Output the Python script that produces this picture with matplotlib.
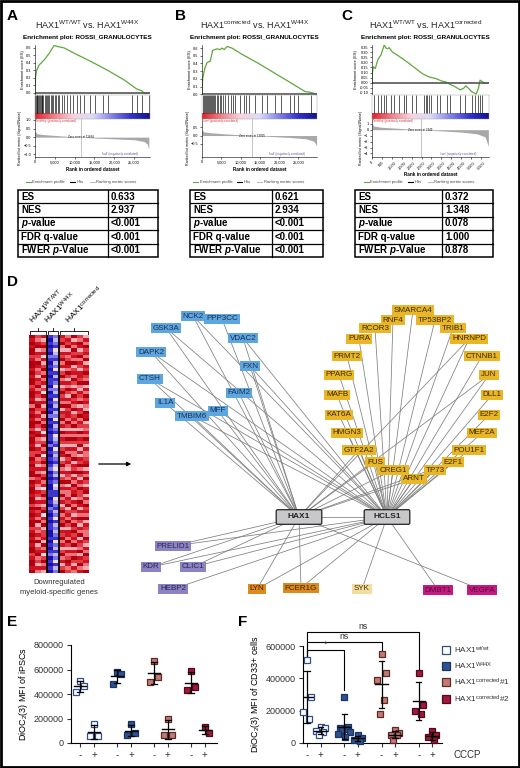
import numpy as np
import matplotlib.pyplot as plt
from matplotlib.colors import LinearSegmentedColormap
from matplotlib.patches import Rectangle, FancyBboxPatch

plt.rcParams['font.family'] = ['Liberation Sans', 'DejaVu Sans']
plt.rcParams['mathtext.fontset'] = 'custom'
plt.rcParams['mathtext.rm'] = 'Liberation Sans'
plt.rcParams['mathtext.it'] = 'Liberation Sans:italic'
plt.rcParams['mathtext.bf'] = 'Liberation Sans:bold'
try:
    plt.rcParams['mathtext.bfit'] = 'Liberation Sans:bold:italic'
    P_BOLD = r'$\mathbfit{p}$'
except KeyError:
    P_BOLD = 'p'

# ---------------- data: GSEA panels A-C ----------------
gsea_titles = [r'HAX1$^{\mathrm{WT/WT}}$ vs. HAX1$^{\mathrm{W44X}}$',
               r'HAX1$^{\mathrm{corrected}}$ vs. HAX1$^{\mathrm{W44X}}$',
               r'HAX1$^{\mathrm{WT/WT}}$ vs. HAX1$^{\mathrm{corrected}}$']

es_rank_a = [0, 150, 400, 1000, 2300, 3600, 4800, 5700, 7400, 9900, 14100, 18400, 22600, 25600, 26900, 27700, 28700]
es_val_a = [0, 0.22, 0.30, 0.37, 0.44, 0.53, 0.633, 0.62, 0.60, 0.53, 0.42, 0.30, 0.17, 0.055, 0.03, -0.01, 0.0]
es_rank_b = [0, 170, 690, 1300, 2150, 2760, 3880, 4740, 5170, 5780, 6470, 7760, 10340, 14650, 18960, 23270, 26720, 28020, 29700]
es_val_b = [0, 0.20, 0.33, 0.41, 0.43, 0.57, 0.59, 0.58, 0.60, 0.58, 0.621, 0.60, 0.52, 0.40, 0.27, 0.14, 0.034, 0.026, 0.0]
es_rank_c = [0, 20, 67, 167, 283, 367, 450, 533, 617, 700, 783, 867, 1033, 1283, 1533, 1867, 2200, 2533, 2867,
             3200, 3533, 3700, 3950, 4200, 4450, 4617, 4733, 4867, 5033, 5250, 5367, 5450, 5567, 5700, 5867]
es_val_c = [0, 0.10, 0.156, 0.14, 0.22, 0.25, 0.27, 0.32, 0.372, 0.34, 0.334, 0.344, 0.30, 0.27, 0.237, 0.19, 0.14,
            0.09, 0.058, 0.042, 0.016, 0.01, -0.016, -0.04, -0.07, -0.055, -0.03, -0.055, -0.088, -0.11, -0.055,
            0.026, 0.01, -0.007, 0.0]

hits_a = [85, 254, 423, 593, 762, 1016, 1186, 1440, 1694, 1863, 2117, 2457, 2711, 2965, 3304, 3558, 3981, 4320,
          4659, 4998, 5421, 5675, 6099, 6692, 7285, 8132, 8725, 9572, 10673, 11266, 12367, 13807, 15077, 17195,
          18465, 24394, 25665, 26935, 28629]
hits_b = [172, 431, 690, 948, 1207, 1465, 1724, 1983, 2327, 2586, 2845, 3189, 3448, 3793, 4138, 4569, 5000, 5431,
          6034, 6724, 7414, 7931, 8621, 9914, 10776, 11379, 12241, 13793, 15517, 16810, 18966, 20517, 22845,
          23966, 24828, 28276]
hits_c = [117, 283, 450, 617, 700, 950, 1117, 1367, 1617, 1700, 2033, 2200, 2617, 2700, 2783, 2867, 2950, 3283,
          3450, 3783, 3950, 4450, 4700, 5033, 5200, 5367, 5450, 5533]

rank_x_a = [0, 500, 2000, 5000, 8000, 11484, 15000, 20000, 25000, 27500, 28300, 28700]
rank_y_a = [0.35, 0.2, 0.15, 0.1, 0.05, 0, -0.05, -0.1, -0.15, -0.25, -0.4, -0.7]
rank_x_b = [0, 500, 2000, 6000, 10000, 13035, 18000, 23000, 27000, 29000, 29700]
rank_y_b = [0.35, 0.22, 0.17, 0.1, 0.04, 0, -0.06, -0.12, -0.2, -0.35, -0.6]
rank_x_c = [0, 100, 500, 1500, 2449, 3500, 4500, 5300, 5700, 5867]
rank_y_c = [1.0, 0.6, 0.4, 0.2, 0, -0.2, -0.4, -0.7, -1.2, -2.8]

zero_cross = [11484, 13035, 2449]
rank_max = [29000, 29800, 5900]
pos_labels = ["'healthy' (positively correlated)", "'corr' (positively correlated)", "'healthy' (positively correlated)"]
neg_labels = ["'ko4' (negatively correlated)", "'ko4' (negatively correlated)", "'corr' (negatively correlated)"]

table_rows = ['ES', 'NES', P_BOLD + '-value', 'FDR q-value', 'FWER ' + P_BOLD + '-Value']
table_a = ['0.633', '2.937', '<0.001', '<0.001', '<0.001']
table_b = ['0.621', '2.934', '<0.001', '<0.001', '<0.001']
table_c = ['0.372', '1.348', '0.078', '1.000', '0.878']

# ---------------- data: heatmap (levels 0 = blue ... 9 = red) ----------------
heat_cols = [
    "989899789989899789989698989979899897798989969899899798989978989899789989",
    "768958769867587968758976869758967587967586978658758697869576869578967586",
    "857968485796968574968579586974857968479685796847968579486957785968479685",
    "101010210101011020101010201010110201010120101001101021010110010101201010",
    "232143213241312423142313241321432142321342312431143213241323214231324132",
    "879658796857968579786958796859687579857968579686968579687958796857968579",
    "687958679869758697586978869758697586978658769586687957869758869758679867",
    "958697869578697586978695786958697586695879586978958697586979786958697586",
    "769857968758879658769587968759687958587969758697769858697586958769587968",
    "586978695879769586978659895768697586678958697589586978695876697586978659",
]
heat_groups = [r'HAX1$^{\mathrm{WT/WT}}$', r'HAX1$^{\mathrm{W44X}}$', r'HAX1$^{\mathrm{corrected}}$']
heat_group_sizes = [3, 2, 5]

# ---------------- data: network ----------------
node_name = ['NCK2', 'PPP3CC', 'GSK3A', 'VDAC2', 'DAPK2', 'FXN', 'CTSH', 'FAIM2', 'IL1A', 'MFF', 'TMBIM6',
             'SMARCA4', 'RNF4', 'TP53BP2', 'RCOR3', 'TRIB1', 'PURA', 'HNRNPD', 'PRMT2', 'CTNNB1', 'PPARG', 'JUN',
             'MAFB', 'DLL1', 'KAT6A', 'E2F2', 'HMGN3', 'MEF2A', 'GTF2A2', 'POU1F1', 'FUS', 'E2F1', 'CREG1', 'TP73',
             'ARNT', 'PRELID1', 'KDR', 'CLIC1', 'HEBP2', 'LYN', 'FCER1G', 'SYK', 'DMBT1', 'VEGFA', 'HAX1', 'HCLS1']
node_x = [193, 222, 166, 243, 151, 250, 150, 239, 165, 218, 192,
          413, 393, 435, 375, 453, 359, 469, 347, 482, 339, 489, 337, 492, 339, 489, 347, 482, 359, 469, 375, 453,
          393, 435, 414, 173, 151, 193, 173, 257, 301, 362, 438, 482, 299, 387]
node_y = [316, 319, 328, 338, 352, 366, 379, 393, 403, 411, 416,
          310, 320, 320, 328, 328, 339, 339, 356, 356, 375, 375, 395, 395, 415, 415, 433, 433, 450, 450, 462, 462,
          470, 470, 479, 546, 567, 567, 589, 589, 588, 589, 590, 590, 517, 517]
node_kind = ['blue'] * 11 + ['gold'] * 24 + ['purple'] * 4 + ['orange'] * 2 + ['wheat'] + ['magenta'] * 2 + ['hub'] * 2

edge_src = (['NCK2', 'PPP3CC', 'GSK3A', 'VDAC2', 'DAPK2', 'FXN', 'CTSH', 'FAIM2', 'IL1A', 'MFF', 'TMBIM6']
            + ['GSK3A', 'DAPK2', 'CTSH', 'FXN', 'VDAC2', 'MFF', 'TMBIM6', 'NCK2']
            + node_name[11:35]
            + ['HNRNPD', 'GTF2A2', 'FUS', 'CREG1', 'ARNT', 'JUN', 'E2F1']
            + ['PRELID1', 'PRELID1', 'KDR', 'KDR', 'CLIC1', 'CLIC1', 'HEBP2', 'LYN', 'LYN', 'FCER1G', 'FCER1G',
               'SYK', 'DMBT1', 'VEGFA', 'HAX1'])
edge_dst = (['HAX1'] * 11 + ['HCLS1'] * 8 + ['HCLS1'] * 24 + ['HAX1'] * 7
            + ['HAX1', 'HCLS1', 'HAX1', 'HCLS1', 'HAX1', 'HCLS1', 'HCLS1', 'HAX1', 'HCLS1', 'HAX1', 'HCLS1',
               'HCLS1', 'HCLS1', 'HAX1', 'HCLS1'])

# ---------------- data: panels E and F ----------------
series_labels = [r'HAX1$^{\mathrm{wt/wt}}$', r'HAX1$^{\mathrm{W44X}}$',
                 r'HAX1$^{\mathrm{corrected}}$#1', r'HAX1$^{\mathrm{corrected}}$#2']
e_minus = [[507000, 469000, 415000], [583000, 564000, 483000], [673000, 537000, 502000], [591000, 456000, 429000]]
e_plus = [[157000, 54000, 54000], [157000, 81000, 68000], [198000, 68000, 68000], [130000, 81000]]
f_minus = [[513000, 283000, 191000, 150000],
           [283000, 100000, 92000, 85000, 78000, 70000, 55000, 40000],
           [550000, 435000, 390000, 263000, 178000],
           [435000, 236000, 195000, 178000]]
f_plus = [[100000, 92000, 75000, 70000, 47000],
          [51000, 31000, 20000, 14000],
          [82000, 62000, 51000, 47000, 20000],
          [76000, 51000, 35000, 20000]]
f_sig_target = [1, 2, 3]
f_sig_text = ['*', 'ns', 'ns']

# ---------------- layout helpers ----------------
W, H = 520, 768
fig = plt.figure(figsize=(W / 100, H / 100), dpi=100)


def px_rect(l, t, r, b):
    return [l / W, 1 - b / H, (r - l) / W, (b - t) / H]


ov = fig.add_axes([0, 0, 1, 1], zorder=10)
ov.set_xlim(0, W)
ov.set_ylim(H, 0)
ov.axis('off')
ov.patch.set_alpha(0)
ov.add_patch(Rectangle((1, 1), W - 2, H - 2, fill=False, lw=2, ec='black'))

for lab, (x, y) in zip('ABCDEF', [(12, 16), (180, 16), (347, 16), (12, 282), (12, 622), (243, 622)]):
    ov.text(x, y, lab, fontsize=11, fontweight='bold', ha='center', va='center')

gsea_cmap = LinearSegmentedColormap.from_list(
    'gsea', ['#e0242c', '#f08088', '#f7d4de', '#dcdcf6', '#8484e8', '#3434cc', '#12128f'])


def draw_gsea(i, left, right, es_x, es_y, hits, rk_x, rk_y, es_ylim, es_ticks, rk_ylim, rk_ticks, xticks, rot):
    xmax = rank_max[i]
    cx = (left + right) / 2 - 5
    ov.text(cx, 25, gsea_titles[i], fontsize=6.5, ha='center', va='center', color='#222')
    ov.text(cx, 38, 'Enrichment plot: ROSSI_GRANULOCYTES', fontsize=4.6, fontweight='bold',
            ha='center', va='center')

    ax_es = fig.add_axes(px_rect(left, 45, right, 95))
    ax_es.plot(es_x, es_y, color='#5fa83a', lw=0.9)
    ax_es.axhline(0, color='#555555', lw=1.2)
    ax_es.set_xlim(0, xmax)
    ax_es.set_ylim(*es_ylim)
    ax_es.set_yticks(es_ticks)
    ax_es.set_yticklabels([f'{t:.2f}' if i == 2 else f'{t:.1f}' for t in es_ticks])
    ax_es.set_xticks([])
    for s in ['top', 'right', 'bottom']:
        ax_es.spines[s].set_visible(False)
    ax_es.spines['left'].set_linewidth(0.4)
    ax_es.tick_params(labelsize=2.8, length=1.5, width=0.4, pad=1)
    ax_es.set_ylabel('Enrichment score (ES)', fontsize=2.8, labelpad=1)
    ax_es.patch.set_alpha(0)

    ax_h = fig.add_axes(px_rect(left, 95, right, 119))
    ax_h.imshow(np.linspace(0, 1, 256)[None, :], cmap=gsea_cmap, aspect='auto', extent=(0, xmax, 0, 0.22))
    ax_h.vlines(hits, 0.24, 1, color='black', lw=0.45)
    ax_h.set_xlim(0, xmax)
    ax_h.set_ylim(0, 1)
    ax_h.set_xticks([])
    ax_h.set_yticks([])
    for s in ax_h.spines.values():
        s.set_linewidth(0.3)
        s.set_color('#999999')

    ax_r = fig.add_axes(px_rect(left, 119, right, 157))
    ax_r.fill_between(rk_x, rk_y, 0, color='#a8a8a8', lw=0)
    ax_r.axvline(zero_cross[i], color='#999999', lw=0.4)
    ax_r.set_xlim(0, xmax)
    ax_r.set_ylim(*rk_ylim)
    ax_r.set_yticks(rk_ticks)
    ax_r.set_xticks(xticks)
    ax_r.set_xticklabels([f'{t:,}' for t in xticks], rotation=rot)
    for s in ['top', 'right']:
        ax_r.spines[s].set_visible(False)
    for s in ['left', 'bottom']:
        ax_r.spines[s].set_linewidth(0.4)
    ax_r.tick_params(labelsize=2.8, length=1.5, width=0.4, pad=1)
    ax_r.set_ylabel('Ranked list metric (Signal2Noise)', fontsize=2.6, labelpad=1)
    ax_r.set_xlabel('Rank in ordered dataset', fontsize=3.3, fontweight='bold', labelpad=1.5)
    ax_r.text(xmax * 0.01, rk_ylim[1], pos_labels[i], fontsize=2.1, color='#d03030', va='top')
    ax_r.text(zero_cross[i], 0, f'Zero cross at {zero_cross[i]}', fontsize=2.1, ha='center', va='center')
    ax_r.text(xmax * 0.58, rk_ylim[0] + 0.03 * (rk_ylim[1] - rk_ylim[0]), neg_labels[i], fontsize=2.1,
              color='#5858a0', va='bottom')
    ax_r.patch.set_alpha(0)

    ly = 182
    x0 = cx - 62
    for col, lab, dx in [('#5fa83a', 'Enrichment profile', 0), ('black', 'Hits', 44), ('#bbbbbb', 'Ranking metric scores', 64)]:
        ov.plot([x0 + dx, x0 + dx + 5], [ly, ly], color=col, lw=0.8)
        ov.text(x0 + dx + 7, ly, lab, fontsize=3, va='center', color='#444')


def draw_table(l, r, split, vals):
    top, bot = 190, 257
    n = len(table_rows)
    h = (bot - top) / n
    ov.add_patch(Rectangle((l, top), r - l, bot - top, fill=False, lw=1.1, ec='black'))
    ov.plot([split, split], [top, bot], color='black', lw=0.9)
    for k in range(1, n):
        ov.plot([l, r], [top + k * h] * 2, color='black', lw=0.9)
    for k, (lab, v) in enumerate(zip(table_rows, vals)):
        y = top + (k + 0.5) * h
        ov.text(l + 3, y, lab, fontsize=7, fontweight='bold', va='center')
        ov.text(split + 3, y, v, fontsize=7, fontweight='bold', va='center')


ticks_ab = [0, 5000, 10000, 15000, 20000, 25000]
draw_gsea(0, 35, 150, es_rank_a, es_val_a, hits_a, rank_x_a, rank_y_a, (-0.027, 0.64),
          [0.0, 0.1, 0.2, 0.3, 0.4, 0.5, 0.6], (-1.15, 1.05), [-1.0, -0.5, 0.0, 0.5, 1.0], ticks_ab, 0)
draw_gsea(1, 202, 317, es_rank_b, es_val_b, hits_b, rank_x_b, rank_y_b, (-0.01, 0.64),
          [0.0, 0.1, 0.2, 0.3, 0.4, 0.5, 0.6], (-1.3, 1.0), [-0.5, 0.0, 0.5], ticks_ab, 0)
draw_gsea(2, 372, 489, es_rank_c, es_val_c, hits_c, rank_x_c, rank_y_c, (-0.12, 0.37),
          [-0.10, -0.05, 0.0, 0.05, 0.10, 0.15, 0.20, 0.25, 0.30, 0.35], (-4.6, 1.8), [1, 0, -1, -2, -3, -4],
          list(range(0, 6000, 500)), 45)
draw_table(18, 158, 108, table_a)
draw_table(190, 323, 272, table_b)
draw_table(355, 493, 442, table_c)

# ---------------- panel D: heatmap ----------------
heat_cmap = LinearSegmentedColormap.from_list(
    'heat', ['#1a10b0', '#4a40d8', '#a8a4ee', '#f2e2ec', '#f4a8b0', '#e85a62', '#d81a26', '#b00010'])
n_rows = min(len(c) for c in heat_cols)
heat = np.array([[int(ch) for ch in c[:n_rows]] for c in heat_cols]).T
hm_l, hm_r, hm_t, hm_b = 29, 89, 335, 573
ax_hm = fig.add_axes(px_rect(hm_l, hm_t, hm_r, hm_b))
ax_hm.imshow(heat, cmap=heat_cmap, aspect='auto', interpolation='nearest', vmin=0, vmax=9)
edges_cols = np.cumsum(heat_group_sizes)
for e in edges_cols[:-1]:
    ax_hm.axvline(e - 0.5, color='black', lw=1.3)
ax_hm.axis('off')

col_w = (hm_r - hm_l) / len(heat_cols)
start = 0
for lab, size in zip(heat_groups, heat_group_sizes):
    gl = hm_l + start * col_w + 1
    gr = hm_l + (start + size) * col_w - 1
    gc = (gl + gr) / 2
    ov.plot([gl, gl, gr, gr], [334, 331, 331, 334], color='black', lw=0.6)
    ov.plot([gc, gc], [331, 328], color='black', lw=0.6)
    ov.text(gc - 3, 326, lab, fontsize=6, rotation=45, rotation_mode='anchor', ha='left', va='bottom')
    start += size
ov.text(59, 583, 'Downregulated', fontsize=5.5, ha='center', va='center', color='#333')
ov.text(59, 593, 'myeloid-specific genes', fontsize=5.5, ha='center', va='center', color='#333')
ov.annotate('', xy=(134, 464), xytext=(96, 464),
            arrowprops=dict(arrowstyle='-|>', color='black', lw=0.9, mutation_scale=6))

# ---------------- panel D: network ----------------
kind_style = {
    'blue': ('#5ea6de', '#1b2f55'),
    'gold': ('#e8b626', '#3a2a05'),
    'purple': ('#8c84c2', '#2a2455'),
    'orange': ('#dc8a1e', '#3a2005'),
    'wheat': ('#f3dc9e', '#3a3010'),
    'magenta': ('#c41a82', '#55083a'),
}
pos = {n: (x, y) for n, x, y in zip(node_name, node_x, node_y)}
for s, d in zip(edge_src, edge_dst):
    ov.plot([pos[s][0], pos[d][0]], [pos[s][1], pos[d][1]], color='#7f7f7f', lw=0.55, zorder=1)
for n, x, y, k in zip(node_name, node_x, node_y, node_kind):
    if k == 'hub':
        ov.add_patch(FancyBboxPatch((x - 22, y - 6.5), 44, 13, boxstyle='round,pad=0.8,rounding_size=1.5',
                                    fc='#c8c8ca', ec='#222222', lw=0.9, zorder=3))
        ov.text(x, y, n, fontsize=6, fontweight='bold', ha='center', va='center', color='#222', zorder=4)
    else:
        fc, tc = kind_style[k]
        ov.text(x, y, n, fontsize=5.8, ha='center', va='center', color=tc, zorder=3,
                bbox=dict(boxstyle='square,pad=0.22', fc=fc, ec='none'))

# ---------------- panels E and F ----------------
face = ['white', '#2e5291', '#c47a74', '#a3173d']
edge = ['#2f4f86', '#1c335e', '#5c2a28', '#4e0a1c']
jitter = [0.0, 0.3, -0.3, 0.15, -0.15, 0.45, -0.45, 0.05]


def draw_scatter(rect, minus, plus, gap, xlim, ylim, yticks, ylabel):
    ax = fig.add_axes(px_rect(*rect))
    xpos = []
    for g in range(4):
        for c, vals in enumerate((minus[g], plus[g])):
            x0 = g * gap + c
            xpos.append(x0)
            xs = x0 + np.array(jitter[:len(vals)])
            ax.plot(xs, vals, 's', ms=5, mfc=face[g], mec=edge[g], mew=0.9, zorder=3, clip_on=False)
            m = np.mean(vals)
            sd = np.std(vals, ddof=1)
            ax.plot([x0 - 0.45, x0 + 0.45], [m, m], color='black', lw=1.0, zorder=4)
            ax.plot([x0, x0], [max(m - sd, 0), m + sd], color='black', lw=0.9, zorder=4)
            ax.plot([x0 - 0.2, x0 + 0.2], [m + sd] * 2, color='black', lw=0.9, zorder=4)
            if m - sd > 0:
                ax.plot([x0 - 0.2, x0 + 0.2], [m - sd] * 2, color='black', lw=0.9, zorder=4)
    ax.set_xlim(*xlim)
    ax.set_ylim(*ylim)
    ax.set_yticks(yticks)
    ax.set_yticklabels([str(t) for t in yticks])
    ax.set_xticks(xpos)
    ax.set_xticklabels(['-', '+'] * 4)
    for s in ['top', 'right']:
        ax.spines[s].set_visible(False)
    for s in ['left', 'bottom']:
        ax.spines[s].set_linewidth(0.8)
    ax.tick_params(labelsize=6.5, length=3, width=0.8, colors='#333', pad=2)
    ax.tick_params(axis='x', labelsize=7)
    ax.set_ylabel(ylabel, fontsize=6.5, family=['Liberation Sans Narrow', 'Liberation Sans'], labelpad=3)
    ax.patch.set_alpha(0)
    return ax


draw_scatter((71, 645, 217, 743), e_minus, e_plus, 2.64, (-0.64, 9.79), (0, 800000),
             [0, 200000, 400000, 600000, 800000], r'DiOC$_2$(3) MFI of iPSCs')
ax_f = draw_scatter((303, 646, 442, 743), f_minus, f_plus, 2.76, (-0.3, 10.0), (0, 600000),
                    [0, 200000, 400000, 600000], r'DiOC$_2$(3) MFI of CD33+ cells')

heights = [575000, 625000, 687000]
right_drop = [330000, 560000, 450000]
for tgt, txt, hgt, rd in zip(f_sig_target, f_sig_text, heights, right_drop):
    xr = tgt * 2.76
    ax_f.plot([0, 0, xr, xr], [530000, hgt, hgt, rd], color='black', lw=0.8, clip_on=False)
    ax_f.text(xr / 2, hgt + 5000, txt, fontsize=6.3, ha='center', va='bottom', color='#333')

ov.text(453, 755, 'CCCP', fontsize=7, va='center', color='#333')
for k, (lab, y) in enumerate(zip(series_labels, [650, 666, 682, 699])):
    ov.plot(446, y, 's', ms=5.5, mfc=face[k], mec=edge[k], mew=0.9)
    ov.text(454, y, lab, fontsize=5.9, va='center', color='#333')

fig.savefig('out.png', dpi=100)
